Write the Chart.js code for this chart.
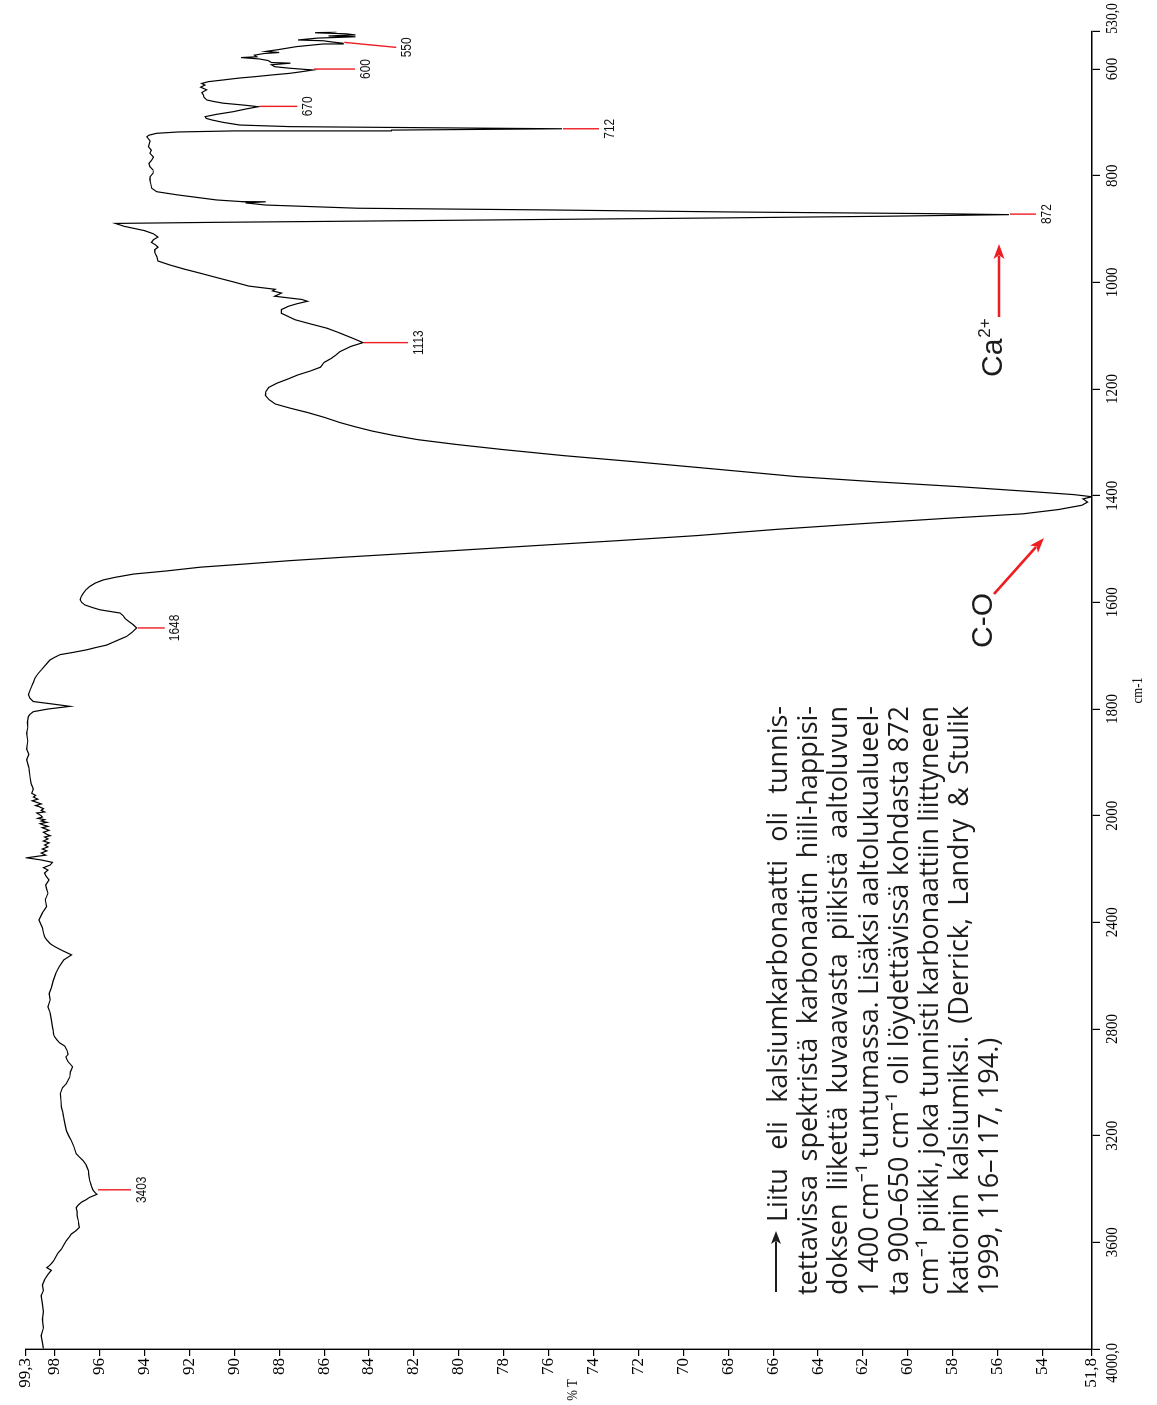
<!DOCTYPE html>
<html><head><meta charset="utf-8">
<script src="https://cdn.jsdelivr.net/npm/chart.js@4.4.1/dist/chart.umd.min.js"></script>
<style>
html,body{margin:0;padding:0;background:#fff;width:1157px;height:1405px;overflow:hidden;}
#wrap{position:absolute;left:0;top:0;width:1405px;height:1157px;transform-origin:0 0;transform:translate(0px,1405px) rotate(-90deg);}
canvas{display:block;}
</style></head><body>
<div id="wrap"><canvas id="c" width="1405" height="1157"></canvas></div>
<script>
// ---- data (wavenumber cm-1, transmittance %T) ----
const wavenumbers = [530,532,534,536,538,539.5,542,545.5,547,549.5,551.7,553,558,564,567,569,571,574,577,578.5,581,584,587.8,589,592,595.6,598.6,601.8,605,608,611,614,617,620.5,623.7,627,630,634,639,644,648.6,653,658,661,664,667.5,670.6,675,680,685,689.3,692.5,695.5,700,705,708,709.5,711,712,713,714.5,716,718,720.5,724,727,735,745.5,752,758,765,770.5,777,783,789,795,802,808,815,823.5,830,836,839,845.5,848.6,848.9,851,855,861,864,868,871,873,876,879,882,885,887.5,889.5,895,903,909,915,920,925,930,934,939,944,952,960,967,975,983,991,999,1007,1013,1016,1020,1026,1032,1035.5,1040,1045,1051,1058,1064,1070,1078,1086,1095,1105,1113,1120,1130,1137,1143,1150,1159,1166,1174,1181,1189,1197,1205,1212,1220,1228,1236,1244,1253,1263,1271,1279,1287,1295,1304,1313.5,1325,1336,1350,1364,1374,1383,1392,1398,1402,1406,1412,1418,1426,1434,1443,1452.6,1463,1474.7,1484,1493.6,1505,1515.8,1522,1528,1534,1541,1547,1553,1558,1564,1570,1576,1583,1589,1595,1600,1605,1610,1614,1620,1625,1630,1636,1642,1648,1656,1664,1672,1680,1685,1689,1694,1698,1703,1708,1717,1726,1734,1742,1750,1757,1765,1773,1780,1786,1790,1795,1800,1805,1810,1814,1825,1835,1845,1860,1875,1885,1895,1910,1927,1940,1950,1958,1962,1965,1969,1972,1975,1978,1981,1983,1987,1990,1993,1995,2000,2005,2010,2015,2020,2025,2030,2035,2040,2045,2050,2055,2062,2070,2075,2080,2087,2095,2102,2110,2117,2125,2132,2140,2148,2152,2158,2166,2175,2185,2195,2204,2215,2225,2241,2260,2275,2291,2315,2341,2365,2391,2420,2440,2454,2466,2480,2491,2500,2507,2514,2522,2541,2566,2591,2620,2645,2667,2690,2717,2740,2766,2790,2805,2820,2830,2841,2852,2864,2880,2895,2905,2915,2923,2932,2942,2961,2980,3005,3020,3043,3070,3093,3110,3131,3155,3181,3200,3218,3240,3268,3280,3293,3310,3331,3350,3369,3385,3403,3412,3420,3431,3440,3449,3460,3470,3485,3500,3519,3530,3544,3556,3569,3580,3594,3610,3625,3640,3655,3670,3680,3688,3695,3705,3720,3740,3760,3780,3800,3830,3860,3890,3920,3950,3975,3998];
const transmittance = [85.45,86.4,85.0,84.6,85.8,84.6,86.3,87.16,86.04,85.6,85.15,86.04,87.23,88.1,88.6,88.0,88.7,89.1,89.0,89.7,88.9,88.5,88.35,87.5,88.35,88.2,87.5,86.5,87.0,87.52,88.3,89.0,89.8,90.5,91.16,91.45,91.31,91.5,91.23,91.45,91.38,91.35,91.23,90.9,90.5,89.6,88.93,89.5,90.05,90.8,91.3,91.25,91.0,90.5,89.75,87.5,83.0,78.5,75.4,78.5,83.0,90.0,92.5,93.46,93.8,93.9,93.75,93.83,93.7,93.76,93.6,93.68,93.8,93.76,93.62,93.61,93.75,93.76,93.72,93.68,93.46,92.53,91.98,90.79,89.67,88.6,89.5,88.6,84.5,76.5,67.9,59.2,55.5,61.0,67.9,76.0,84.0,91.0,95.3,94.9,94.0,93.6,93.4,93.6,93.69,93.5,93.4,93.55,93.54,93.45,93.4,92.9,92.24,91.5,90.79,90.05,89.35,88.18,88.3,87.9,88.2,87.0,86.74,87.2,87.6,87.9,87.9,87.6,87.3,86.6,85.87,85.3,84.71,84.27,84.8,85.3,85.5,85.7,86.0,86.16,86.6,87.2,87.6,88.1,88.47,88.6,88.62,88.45,88.18,87.5,86.74,86.0,85.29,84.6,83.84,82.9,81.81,80.1,78.04,75.3,72.25,68.6,65.01,61.4,57.77,54.6,52.6,51.8,52.2,52.0,52.26,53.3,54.87,58.5,62.1,65.8,69.36,72.8,76.6,81.0,85.3,87.6,89.5,91.5,93.0,94.5,95.3,95.84,96.2,96.43,96.6,96.73,96.82,96.87,96.8,96.65,96.3,95.98,95.09,94.95,94.87,94.7,94.5,94.35,94.55,94.8,95.25,95.68,96.2,96.58,97.2,97.76,98.0,98.21,98.4,98.58,98.75,98.88,98.95,99.02,99.1,99.17,99.1,98.95,98.2,97.32,98.3,98.95,99.1,99.17,99.22,99.2,99.25,99.2,99.25,99.15,99.25,99.15,99.1,99.05,98.95,99.02,98.85,98.95,98.75,99.0,98.8,98.6,98.85,98.7,98.5,98.6,98.45,98.8,98.6,98.55,98.75,98.45,98.6,98.35,98.65,98.5,98.3,98.55,98.4,98.25,98.5,98.35,98.2,98.45,98.3,98.5,98.25,98.45,98.3,98.55,98.35,98.6,98.4,98.75,99.25,98.6,98.1,98.2,98.5,98.3,98.45,98.4,98.25,98.4,98.36,98.3,98.42,98.36,98.55,98.7,98.55,98.5,98.45,98.35,98.2,98.0,97.8,97.63,97.45,97.25,97.6,97.8,97.95,98.07,98.15,98.25,98.2,98.3,98.2,98.15,98.1,98.07,98.05,98.0,97.9,97.78,97.55,97.45,97.4,97.5,97.45,97.4,97.3,97.2,97.3,97.33,97.48,97.65,97.75,97.72,97.7,97.65,97.6,97.55,97.48,97.38,97.26,97.15,97.04,96.9,96.74,96.6,96.5,96.48,96.44,96.38,96.3,96.22,96.12,96.44,96.6,96.8,96.95,97.04,97.0,97.0,96.95,96.93,96.9,97.05,97.26,97.35,97.48,97.6,97.7,97.85,97.95,98.05,98.15,98.25,98.35,98.15,98.3,98.45,98.55,98.5,98.6,98.55,98.5,98.55,98.5,98.6,98.55,98.5,98.55,98.5];
const peakWavenumbers = [3403,1648,1113,872,712,670,600,550];
const peakTransmittance = [96.12,94.35,84.27,55.5,75.4,88.93,86.5,85.15];
const peakLabels = ['3403','1648','1113','872','712','670','600','550'];
const wavenumberTicks = [530,600,800,1000,1200,1400,1600,1800,2000,2400,2800,3200,3600,4000];
const wavenumberTickLabels = ['530,0','600','800','1000','1200','1400','1600','1800','2000','2400','2800','3200','3600','4000,0'];
const transmittanceTicks = [99.3,98,96,94,92,90,88,86,84,82,80,78,76,74,72,70,68,66,64,62,60,58,56,54,51.8];
const transmittanceTickLabels = ['99,3','98','96','94','92','90','88','86','84','82','80','78','76','74','72','70','68','66','64','62','60','58','56','54','51,8'];
const xAxisTitle = 'cm-1';
const yAxisTitle = '% T';
const noteLines = [
  'Liitu eli kalsiumkarbonaatti oli tunnis-',
  'tettavissa spektristä karbonaatin hiili-happisi-',
  'doksen liikettä kuvaavasta piikistä aaltoluvun',
  '1\u00a0400 cm⁻¹ tuntumassa. Lisäksi aaltolukualueel-',
  'ta 900–650 cm⁻¹ oli löydettävissä kohdasta 872',
  'cm⁻¹ piikki, joka tunnisti karbonaattiin liittyneen',
  'kationin kalsiumiksi. (Derrick, Landry & Stulik',
  '1999, 116–117, 194.)'
];
const ionLabel = 'Ca';
const ionCharge = '2+';
const bondLabel = 'C-O';

// the instrument axis is compressed 2x above 2000 cm-1
function toAxis(w){ return w <= 2000 ? w : 2000 + (w - 2000) / 2; }

const RED = '#ee1d23';
const INK = '#1e1b1c';

function condensed(ctx, str, x, y, align, sx){
  const w = ctx.measureText(str).width * sx;
  const left = align === 'center' ? x - w/2 : (align === 'right' ? x - w : x);
  ctx.save(); ctx.translate(left, y); ctx.scale(sx, 1); ctx.textAlign = 'left'; ctx.fillText(str, 0, 0); ctx.restore();
}
function arrow(ctx, x0, y0, x1, y1, color, lw, hl, hw){
  const a = Math.atan2(y1 - y0, x1 - x0);
  ctx.save(); ctx.strokeStyle = color; ctx.fillStyle = color; ctx.lineWidth = lw;
  ctx.beginPath(); ctx.moveTo(x0, y0); ctx.lineTo(x1 - Math.cos(a)*hl*0.8, y1 - Math.sin(a)*hl*0.8); ctx.stroke();
  ctx.beginPath(); ctx.moveTo(x1, y1);
  ctx.lineTo(x1 - Math.cos(a)*hl + Math.sin(a)*hw/2, y1 - Math.sin(a)*hl - Math.cos(a)*hw/2);
  ctx.lineTo(x1 - Math.cos(a)*hl*0.75, y1 - Math.sin(a)*hl*0.75);
  ctx.lineTo(x1 - Math.cos(a)*hl - Math.sin(a)*hw/2, y1 - Math.sin(a)*hl + Math.cos(a)*hw/2);
  ctx.closePath(); ctx.fill(); ctx.restore();
}
function justified(ctx, text, x0, x1, y, justify){
  const words = text.split(' ');
  const widths = words.map(w => ctx.measureText(w).width);
  const total = widths.reduce((a,b) => a + b, 0);
  const sp = ctx.measureText(' ').width;
  const n = words.length;
  let sx = 1, gap = sp;
  const avail = x1 - x0;
  if (justify && n > 1) {
    if (total + (n-1)*sp*0.9 > avail) { sx = avail / (total + (n-1)*sp*0.9); gap = sp*0.9*sx; }
    else gap = (avail - total) / (n - 1);
  }
  let x = x0;
  words.forEach((w, i) => {
    ctx.save(); ctx.translate(x, y); ctx.scale(sx, 1); ctx.fillText(w, 0, 0); ctx.restore();
    x += widths[i]*sx + gap;
  });
}

const decor = {
  id: 'decor',
  afterDraw(chart){
    const ctx = chart.ctx, xs = chart.scales.x, ys = chart.scales.y, area = chart.chartArea;
    ctx.save();
    // wavenumber tick labels
    ctx.fillStyle = '#000'; ctx.font = '17px "Liberation Serif", "Times New Roman", serif'; ctx.textBaseline = 'alphabetic';
    wavenumberTicks.forEach((w, i) => {
      const px = xs.getPixelForValue(toAxis(w));
      const last = i === wavenumberTicks.length - 1;
      if (i === 0) condensed(ctx, wavenumberTickLabels[i], px - 2, area.bottom + 25, 'left', 0.8);
      else if (last) condensed(ctx, wavenumberTickLabels[i], px + 6, area.bottom + 25, 'right', 0.85);
      else condensed(ctx, wavenumberTickLabels[i], px, area.bottom + 25, 'center', 0.88);
    });
    // axis titles
    ctx.font = '15px "Liberation Serif", serif';
    condensed(ctx, xAxisTitle, (area.left + area.right)/2, area.bottom + 50, 'center', 0.85);
    condensed(ctx, yAxisTitle, 15, (area.top + area.bottom)/2 + 18, 'center', 0.85);
    // peak markers
    const lens = [34,28,45,27,37,39,42,53];
    const dxs = [0,0,0,0,0,0,0,-5];
    ctx.font = '14px "Liberation Sans", Arial, sans-serif';
    peakWavenumbers.forEach((w, i) => {
      const px = xs.getPixelForValue(toAxis(w)), py = ys.getPixelForValue(peakTransmittance[i]);
      ctx.strokeStyle = RED; ctx.lineWidth = 1.4;
      ctx.beginPath(); ctx.moveTo(px, py + 1); ctx.lineTo(px + dxs[i], py + lens[i]); ctx.stroke();
      ctx.fillStyle = '#111'; ctx.textBaseline = 'top';
      condensed(ctx, peakLabels[i], px + dxs[i], py + lens[i] + 4, 'center', 0.85);
    });
    // note paragraph
    ctx.fillStyle = INK; ctx.textBaseline = 'alphabetic';
    ctx.font = '27px "Open Sans", "Noto Sans", sans-serif';
    const base = 787, pitch = 30.2;
    noteLines.forEach((ln, i) => {
      const x0 = i === 0 ? 183 : 110;
      justified(ctx, ln, x0, 699, base + pitch*i, i < noteLines.length - 1);
    });
    arrow(ctx, 113, 776, 174, 776, INK, 2, 13, 10);
    // Ca2+ label and arrow
    ctx.font = '30px "Liberation Sans", Arial, sans-serif'; ctx.fillStyle = INK;
    ctx.textAlign = 'left';
    ctx.fillText(ionLabel, 1028, 1002);
    const cw = ctx.measureText(ionLabel).width;
    ctx.font = '17px "Liberation Sans", Arial, sans-serif';
    ctx.fillText(ionCharge, 1028 + cw + 1, 990);
    arrow(ctx, 1088, 999, 1161, 999, RED, 2.6, 15, 11);
    // C-O label and arrow
    ctx.font = '30px "Liberation Sans", Arial, sans-serif';
    ctx.fillText(bondLabel, 757, 992);
    arrow(ctx, 811, 994, 867, 1044, RED, 2.6, 15, 11);
    ctx.restore();
  }
};

new Chart(document.getElementById('c'), {
  type: 'line',
  data: { datasets: [{
    data: wavenumbers.map((w, i) => ({ x: toAxis(w), y: transmittance[i] })),
    borderColor: '#000', borderWidth: 1.2, pointRadius: 0, tension: 0, fill: false
  }]},
  options: {
    responsive: false, animation: false, events: [],
    layout: { padding: { top: 25.5, right: 31.7, left: 0, bottom: 0 } },
    plugins: { legend: { display: false }, tooltip: { enabled: false } },
    scales: {
      x: {
        type: 'linear', min: 530, max: 3000, reverse: true,
        afterBuildTicks: s => { s.ticks = wavenumberTicks.map(w => ({ value: toAxis(w) })); },
        ticks: { display: false },
        grid: { display: true, drawOnChartArea: false, drawTicks: true, tickLength: 8, color: '#000', lineWidth: 1.2 },
        border: { display: true, color: '#000', width: 1.4 },
        afterFit: s => { s.height = 65; }
      },
      y: {
        type: 'linear', min: 51.8, max: 99.3,
        afterBuildTicks: s => { s.ticks = transmittanceTicks.map(v => ({ value: v })); },
        ticks: { autoSkip: false, color: '#000', padding: 2,
          font: { family: '"Liberation Serif", "Times New Roman", serif', size: 17 },
          callback: (v, i) => transmittanceTickLabels[i] },
        grid: { display: true, drawOnChartArea: false, drawTicks: true, tickLength: 7, color: '#000', lineWidth: 1.2 },
        border: { display: true, color: '#000', width: 1.4 },
        afterFit: s => { s.width = 56; }
      }
    }
  },
  plugins: [decor]
});
</script>
</body></html>
